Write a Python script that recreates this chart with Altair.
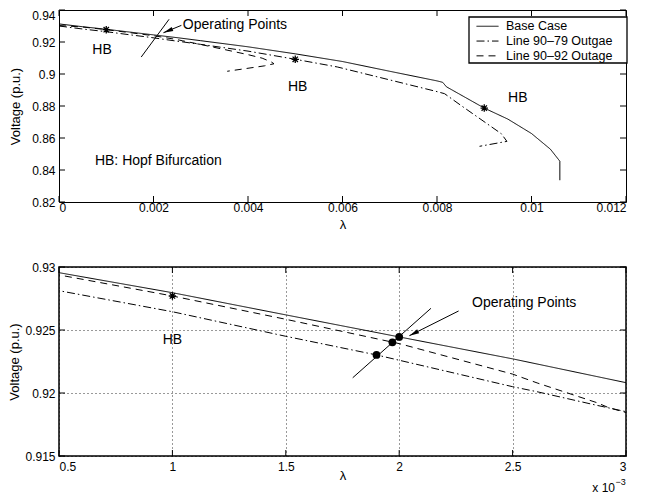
import altair as alt
import pandas as pd

FONT = "Liberation Sans"

# ---------------- data ----------------
series_names = ["Base Case", "Line 90\u201379 Outgae", "Line 90\u201392 Outage"]
series_dash = [[1, 0], [8, 3, 1.5, 3], [7, 5]]

# Base case (solid)
base_lam = [0, 0.0005, 0.001, 0.0015, 0.002, 0.0025, 0.003, 0.004, 0.005, 0.006,
            0.007, 0.008, 0.00812, 0.0082, 0.009, 0.0095, 0.0100, 0.0104, 0.0106, 0.0106]
base_v = [0.9313, 0.92955, 0.92796, 0.9262, 0.92445, 0.92271, 0.92082, 0.9170, 0.9126, 0.9078,
          0.9017, 0.8957, 0.8948, 0.8920, 0.8787, 0.8718, 0.8628, 0.8530, 0.8455, 0.8336]

# Line 90-79 outage (dash-dot)
o79_lam = [0, 0.0005, 0.001, 0.0015, 0.0019, 0.0025, 0.002608, 0.002872, 0.003, 0.004,
           0.005, 0.00589, 0.007, 0.008, 0.00816, 0.0085, 0.00936, 0.00948, 0.0089]
o79_v = [0.9300, 0.92812, 0.92645, 0.9245, 0.92302, 0.92050, 0.9201, 0.91902, 0.91852, 0.9143,
         0.9092, 0.9044, 0.8963, 0.8890, 0.8877, 0.8805, 0.8627, 0.8579, 0.8548]

# Line 90-92 outage (dashed)
o92_lam = [0, 0.0005, 0.001, 0.0015, 0.002, 0.0025, 0.002608, 0.002872, 0.002923, 0.003,
           0.0035, 0.004, 0.0043, 0.0045, 0.00455, 0.00435, 0.00356]
o92_v = [0.9303, 0.92937, 0.9277, 0.92585, 0.92392, 0.92150, 0.9208, 0.91923, 0.91884, 0.91845,
         0.9153, 0.9121, 0.9099, 0.9074, 0.9064, 0.9051, 0.9017]

# Hopf bifurcation points (asterisks)
hb_lam = [0.001, 0.005, 0.009]
hb_v = [0.9277, 0.9092, 0.8787]

# operating points (bottom panel dots)
op_lam = [0.0019, 0.00197, 0.0020]
op_v = [0.92302, 0.92402, 0.92445]

# annotation lines
top_opline_lam = [0.00174, 0.00233]
top_opline_v = [0.9106, 0.9342]
top_arrow_lam = [0.00259, 0.00221]
top_arrow_v = [0.9304, 0.9258]
bot_opline_lam = [0.001795, 0.00214]
bot_opline_v = [0.92121, 0.92672]
bot_arrow_lam = [0.002262, 0.002045]
bot_arrow_v = [0.92651, 0.92455]

# annotation texts
top_center_text = ["HB", "HB", "HB"]
top_center_lam = [0.00091, 0.00505, 0.00971]
top_center_v = [0.9148, 0.8919, 0.885]
top_left_text = ["HB: Hopf Bifurcation", "Operating Points"]
top_left_lam = [0.00076, 0.00262]
top_left_v = [0.8456, 0.9305]
bot_center_text = ["HB"]
bot_center_lam = [0.001]
bot_center_v = [0.92421]
bot_left_text = ["Operating Points"]
bot_left_lam = [0.002321]
bot_left_v = [0.92714]

# ticks
top_xticks = [0, 0.002, 0.004, 0.006, 0.008, 0.010, 0.012]
top_yticks = [0.82, 0.84, 0.86, 0.88, 0.90, 0.92, 0.94]
bot_xticks = [0.5, 1, 1.5, 2, 2.5, 3]
bot_yticks = [0.915, 0.92, 0.925, 0.93]

# ---------------- tables ----------------
rows = []
for name, lams, vs in zip(series_names, [base_lam, o79_lam, o92_lam], [base_v, o79_v, o92_v]):
    for i, (l, v) in enumerate(zip(lams, vs)):
        rows.append({"series": name, "lam": l, "v": v, "idx": i})
curves = pd.DataFrame(rows)
curves["lk"] = curves["lam"] * 1000


def pts(lams, vs, **extra):
    df = pd.DataFrame({"lam": lams, "v": vs, "idx": list(range(len(lams)))})
    df["lk"] = df["lam"] * 1000
    for k, val in extra.items():
        df[k] = val
    return df


W = 567
TOP_H = 192
BOT_H = 189
TICK = 6
TXT = 14
LBL = 12

ASTERISK = "M-1,0L1,0M0,-1L0,1M-0.72,-0.72L0.72,0.72M-0.72,0.72L0.72,-0.72"
ARROWHEAD = "M0,0L0.36,1.6L-0.36,1.6Z"


def X(field, scale):
    return alt.X(f"{field}:Q", scale=scale, axis=None)


def Y(scale):
    return alt.Y("v:Q", scale=scale, axis=None)


# ---------------- top panel ----------------
tx = alt.Scale(domain=[0, 0.012], nice=False, zero=False)
ty = alt.Scale(domain=[0.82, 0.94], nice=False, zero=False)

legend = alt.Legend(
    title=None, orient="none", legendX=417, legendY=10, padding=0,
    labelFontSize=12.5, labelFont=FONT, labelColor="black", labelOffset=7,
    symbolType="stroke", symbolSize=484, symbolStrokeWidth=1, symbolStrokeColor="black",
    clipHeight=12.5, rowPadding=1.8,
)

top_lines = alt.Chart(curves).mark_line(color="black", strokeWidth=1, clip=True).encode(
    x=alt.X("lam:Q", scale=tx, axis=alt.Axis(values=top_xticks, format="~g", title="\u03bb",
                                              labelPadding=0, titlePadding=5, labelOverlap=False)),
    y=alt.Y("v:Q", scale=ty, axis=alt.Axis(
        values=top_yticks, tickCount=7, format="~g", title="Voltage (p.u.)",
        labelPadding=4, titlePadding=9, labelOverlap=False, labelSeparation=0, labelBound=False,
        labelBaseline={"condition": {"test": "datum.value > 0.939", "value": "top"}, "value": "middle"})),
    strokeDash=alt.StrokeDash("series:N", scale=alt.Scale(domain=series_names, range=series_dash),
                              legend=legend),
    order="idx:Q",
)

# legend frame (drawn in the plot, legend entries sit inside it)
legend_box = alt.Chart(pd.DataFrame({"k": [0]})).mark_rect(
    fill="white", stroke="black", strokeWidth=1.3
).encode(x=alt.value(410), x2=alt.value(568), y=alt.value(7), y2=alt.value(53))

top_hb = alt.Chart(pts(hb_lam, hb_v)).mark_point(
    shape=ASTERISK, size=55, stroke="black", strokeWidth=1.3, filled=False, opacity=1
).encode(x=X("lam", tx), y=Y(ty))

top_opline = alt.Chart(pts(top_opline_lam, top_opline_v)).mark_line(color="black", strokeWidth=1).encode(
    x=X("lam", tx), y=Y(ty), order="idx:Q")

top_arrow = alt.Chart(pts(top_arrow_lam, top_arrow_v)).mark_line(color="black", strokeWidth=1).encode(
    x=X("lam", tx), y=Y(ty), order="idx:Q")

top_head = alt.Chart(pts(top_arrow_lam[-1:], top_arrow_v[-1:])).mark_point(
    shape=ARROWHEAD, size=150, filled=True, color="black", opacity=1, angle=248
).encode(x=X("lam", tx), y=Y(ty))

top_txt_c = alt.Chart(pts(top_center_lam, top_center_v, t=top_center_text)).mark_text(
    fontSize=TXT, font=FONT, color="black", align="center", baseline="middle"
).encode(x=X("lam", tx), y=Y(ty), text="t:N")

top_txt_l = alt.Chart(pts(top_left_lam, top_left_v, t=top_left_text)).mark_text(
    fontSize=TXT, font=FONT, color="black", align="left", baseline="middle"
).encode(x=X("lam", tx), y=Y(ty), text="t:N")


def tick_layers(xvals, yvals, xs, ys, h, xfield):
    xdf = pd.DataFrame({xfield: xvals})
    ydf = pd.DataFrame({"v": yvals})
    base_r = dict(color="black", strokeWidth=1)
    l1 = alt.Chart(xdf).mark_rule(**base_r).encode(
        x=X(xfield, xs), y=alt.value(h), y2=alt.value(h - TICK))
    l2 = alt.Chart(xdf).mark_rule(**base_r).encode(
        x=X(xfield, xs), y=alt.value(0), y2=alt.value(TICK))
    l3 = alt.Chart(ydf).mark_rule(**base_r).encode(
        y=Y(ys), x=alt.value(0), x2=alt.value(TICK))
    l4 = alt.Chart(ydf).mark_rule(**base_r).encode(
        y=Y(ys), x=alt.value(W), x2=alt.value(W - TICK))
    return [l1, l2, l3, l4]


top = alt.layer(
    top_lines, top_hb, top_opline, top_arrow, top_head, top_txt_c, top_txt_l,
    *tick_layers(top_xticks, top_yticks, tx, ty, TOP_H, "lam"),
    legend_box,
).resolve_axis(x="independent", y="independent").properties(
    width=W, height=TOP_H, view=alt.ViewBackground(stroke="black", strokeWidth=1))

# ---------------- bottom panel ----------------
bx = alt.Scale(domain=[0.5, 3], nice=False, zero=False)
by = alt.Scale(domain=[0.915, 0.93], nice=False, zero=False)

grid_kw = dict(grid=True, gridDash=[1, 3], gridColor="black", gridOpacity=0.8, gridWidth=1)

bot_lines = alt.Chart(curves).mark_line(color="black", strokeWidth=1, clip=True).encode(
    x=alt.X("lk:Q", scale=bx, axis=alt.Axis(values=bot_xticks, format="~g", title="\u03bb",
                                             labelPadding=5, titlePadding=-3, labelOverlap=False,
                                             **grid_kw)),
    y=alt.Y("v:Q", scale=by, axis=alt.Axis(values=bot_yticks, format="~g", title="Voltage (p.u.)",
                                            labelPadding=4, titlePadding=3, labelOverlap=False,
                                            **grid_kw)),
    strokeDash=alt.StrokeDash("series:N", scale=alt.Scale(domain=series_names, range=series_dash),
                              legend=None),
    order="idx:Q",
)

bot_hb = alt.Chart(pts(hb_lam[:1], hb_v[:1])).mark_point(
    shape=ASTERISK, size=55, stroke="black", strokeWidth=1.3, filled=False, opacity=1
).encode(x=X("lk", bx), y=Y(by))

bot_op = alt.Chart(pts(op_lam, op_v)).mark_point(
    shape="circle", size=60, filled=True, color="black", opacity=1
).encode(x=X("lk", bx), y=Y(by))

bot_opline = alt.Chart(pts(bot_opline_lam, bot_opline_v)).mark_line(color="black", strokeWidth=1).encode(
    x=X("lk", bx), y=Y(by), order="idx:Q")

bot_arrow = alt.Chart(pts(bot_arrow_lam, bot_arrow_v)).mark_line(color="black", strokeWidth=1).encode(
    x=X("lk", bx), y=Y(by), order="idx:Q")

bot_head = alt.Chart(pts(bot_arrow_lam[-1:], bot_arrow_v[-1:])).mark_point(
    shape=ARROWHEAD, size=150, filled=True, color="black", opacity=1, angle=243
).encode(x=X("lk", bx), y=Y(by))

bot_txt_c = alt.Chart(pts(bot_center_lam, bot_center_v, t=bot_center_text)).mark_text(
    fontSize=TXT, font=FONT, color="black", align="center", baseline="middle"
).encode(x=X("lk", bx), y=Y(by), text="t:N")

bot_txt_l = alt.Chart(pts(bot_left_lam, bot_left_v, t=bot_left_text)).mark_text(
    fontSize=TXT, font=FONT, color="black", align="left", baseline="middle"
).encode(x=X("lk", bx), y=Y(by), text="t:N")

exp_base = alt.Chart(pd.DataFrame({"t": ["x 10"]})).mark_text(
    fontSize=LBL, font=FONT, color="black", align="right", baseline="middle"
).encode(text="t:N", x=alt.value(556), y=alt.value(BOT_H + 32))

exp_pow = alt.Chart(pd.DataFrame({"t": ["\u22123"]})).mark_text(
    fontSize=9, font=FONT, color="black", align="left", baseline="middle"
).encode(text="t:N", x=alt.value(556.5), y=alt.value(BOT_H + 26))

bottom = alt.layer(
    bot_lines, bot_hb, bot_op, bot_opline, bot_arrow, bot_head, bot_txt_c, bot_txt_l,
    exp_base, exp_pow,
    *tick_layers(bot_xticks, bot_yticks, bx, by, BOT_H, "lk"),
).resolve_axis(x="independent", y="independent").properties(
    width=W, height=BOT_H, view=alt.ViewBackground(stroke="black", strokeWidth=1.5))

chart = alt.vconcat(top, bottom, spacing=28).resolve_legend(strokeDash="independent").configure(
    font=FONT, padding={"left": 0, "top": 0, "right": 5, "bottom": 2}
).configure_axis(
    labelFontSize=LBL, titleFontSize=13, labelColor="black", titleColor="black",
    titleFontWeight="normal", ticks=False, domain=False, grid=False, labelOverlap=False,
    labelFont=FONT, titleFont=FONT,
).configure_view(stroke="black", strokeWidth=1)

chart.save("out.html", embed_options={"renderer": "svg", "actions": False})
